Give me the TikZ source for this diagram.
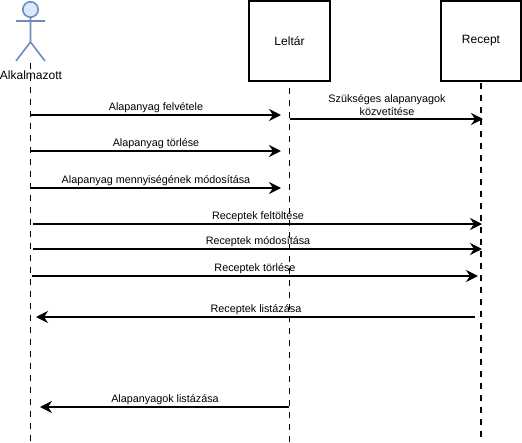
\documentclass[tikz,border=0pt]{standalone}
\usepackage{fontspec}
\setmainfont{Liberation Sans}
\usetikzlibrary{arrows.meta}
\definecolor{actorfill}{HTML}{DAE8FC}
\definecolor{actordraw}{HTML}{6C8EBF}
\tikzset{objbox/.style={draw=black, line width=1.6pt, minimum width=60.5pt, minimum height=60.5pt, inner sep=0pt, font=\fontsize{9}{11}\selectfont}}
\tikzset{lifeline/.style={draw=black, line width=1.3pt, dash pattern=on 4.5pt off 4.5pt}}
\tikzset{msg/.style={draw=black, line width=1.2pt, -{Stealth[length=9pt, width=9pt, inset=3pt]}}}
\tikzset{msglabel/.style={inner sep=0pt, align=center, font=\fontsize{8.1}{9.8}\selectfont}}
\begin{document}
\begin{tikzpicture}[x=0.75pt, y=-0.75pt]
    \useasboundingbox (0, 0) rectangle (522, 443);

    % actor
    \draw[actordraw, line width=1.2pt, fill=actorfill] (30.5, 9.5) circle (7.7);
    \draw[actordraw, line width=1.2pt]
    (30.5, 17) -- (30.5, 42)
    (16, 21) -- (45, 21)
    (16, 61) -- (30.5, 42) -- (45, 61);
    \node[inner sep=0pt, font=\fontsize{9}{11}\selectfont] (actor) at (31, 75) {Alkalmazott};

    \node[objbox] (leltar) at (289.5, 41) {Leltár};
    \node[objbox] (recept) at (481, 41) {Recept};

    % lifelines
    \coordinate (actortop) at (30.5, 63);
    \coordinate (actorend) at (30.5, 443);
    \coordinate (leltartop) at (289.5, 88);
    \coordinate (leltarend) at (289.5, 443);
    \coordinate (recepttop) at (481, 83);
    \coordinate (receptend) at (481, 437);
    \draw[lifeline] (actortop) -- (actorend);
    \draw[lifeline] (leltartop) -- (leltarend);
    \draw[lifeline] (recepttop) -- (receptend);

    % message ends
    \coordinate (a1) at (30.5, 115);
    \coordinate (b1) at (281, 115);
    \coordinate (a2) at (30.5, 151);
    \coordinate (b2) at (281, 151);
    \coordinate (a3) at (30.5, 188);
    \coordinate (b3) at (281, 188);
    \coordinate (b4) at (290, 119);
    \coordinate (c4) at (483, 119);
    \coordinate (a5) at (33, 224);
    \coordinate (c5) at (482, 224);
    \coordinate (a6) at (33, 249);
    \coordinate (c6) at (482, 249);
    \coordinate (a7) at (32, 276);
    \coordinate (c7) at (478, 276);
    \coordinate (c8) at (475, 317);
    \coordinate (a8) at (36, 317);
    \coordinate (b9) at (289, 407);
    \coordinate (a9) at (40, 407);

    \draw[msg] (a1) -- (b1);
    \draw[msg] (a2) -- (b2);
    \draw[msg] (a3) -- (b3);
    \draw[msg] (b4) -- (c4);
    \draw[msg] (a5) -- (c5);
    \draw[msg] (a6) -- (c6);
    \draw[msg] (a7) -- (c7);
    \draw[msg] (c8) -- (a8);
    \draw[msg] (b9) -- (a9);

    \node[msglabel] (felvetel) at (156, 108) {Alapanyag felvétele};
    \node[msglabel] (torles) at (156, 144) {Alapanyag törlése};
    \node[msglabel] (mennyiseg) at (156, 181) {Alapanyag mennyiségének módosítása};
    \node[msglabel] (kozvetites) at (387, 105) {Szükséges alapanyagok\\közvetítése};
    \node[msglabel] (feltoltes) at (258, 217) {Receptek feltöltése};
    \node[msglabel] (modositas) at (258, 242) {Receptek módosítása};
    \node[msglabel] (rtorles) at (255, 269) {Receptek törlése};
    \node[msglabel] (rlista) at (256, 310) {Receptek listázása};
    \node[msglabel] (alista) at (165, 400) {Alapanyagok listázása};
\end{tikzpicture}
\end{document}
